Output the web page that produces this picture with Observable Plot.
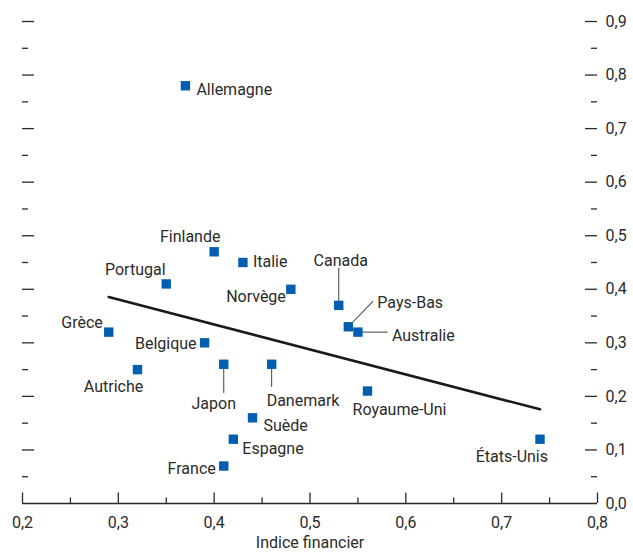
<!DOCTYPE html>
<html><head><meta charset="utf-8">
<script src="https://cdn.jsdelivr.net/npm/d3@7"></script>
<script src="https://cdn.jsdelivr.net/npm/@observablehq/plot@0.6"></script>
<style>
html,body{margin:0;padding:0;background:#fff;}
#chart svg{display:block;}
</style></head><body><div id="chart"></div>
<script>
// ---- data ----
const countries = ["Allemagne","Finlande","Italie","Portugal","Norvège","Grèce","Belgique","Autriche","Japon","Danemark","Canada","Pays-Bas","Australie","Royaume-Uni","États-Unis","Suède","Espagne","France"];
const indiceFinancier = [0.37,0.40,0.43,0.35,0.48,0.29,0.39,0.32,0.41,0.46,0.53,0.54,0.55,0.56,0.74,0.44,0.42,0.41];
const valeurY = [0.78,0.47,0.45,0.41,0.40,0.32,0.30,0.25,0.26,0.26,0.37,0.33,0.32,0.21,0.12,0.16,0.12,0.07];
const xTicks = [0.2,0.3,0.4,0.5,0.6,0.7,0.8];
const xMinorTicks = [0.25,0.35,0.45,0.55,0.65,0.75];
const yLabelTicks = [0,0.1,0.2,0.3,0.4,0.5,0.6,0.7,0.8,0.9];
const yMajorTicks = [0.1,0.2,0.3,0.4,0.5,0.6,0.7,0.8,0.9];
const yMinorTicks = [0.05,0.15,0.25,0.35,0.45,0.55,0.65,0.75,0.85];
const xLabel = "Indice financier";

// ---- label layout (anchor, dx, dy in px) ----
const labelLayout = {
  "Allemagne": ["start", 11, 4],
  "Finlande": ["middle", -24, -15],
  "Italie": ["start", 10, -1],
  "Portugal": ["middle", -31, -14],
  "Norvège": ["end", -5, 8],
  "Grèce": ["end", -6, -9],
  "Belgique": ["end", -8, 1],
  "Autriche": ["middle", -24, 17],
  "Japon": ["middle", -10, 40],
  "Danemark": ["start", -5, 37],
  "Canada": ["middle", 2, -44],
  "Pays-Bas": ["start", 29, -24],
  "Australie": ["start", 34, 4],
  "Royaume-Uni": ["middle", 32, 19],
  "États-Unis": ["end", 8, 18],
  "Suède": ["start", 11, 8],
  "Espagne": ["start", 9, 10],
  "France": ["end", -8, 3]
};
// leader lines: length px, rotation deg
const leaders = {"Japon": [28, 180], "Danemark": [22, 180], "Canada": [37, 0], "Pays-Bas": [35, 44], "Australie": [29, 90]};

const data = countries.map((c, i) => ({pays: c, x: indiceFinancier[i], y: valeurY[i]}));

const W = 633, H = 552, mL = 22, mR = 36, mT = 21, mB = 49;
const plotW = W - mL - mR, plotH = H - mT - mB;
const ink = "#2b2b2b";
const fmt = d => d3.format(".1f")(d).replace(".", ",");
const font = "Roboto, 'Liberation Sans', sans-serif";

const marks = [];
// ticks
marks.push(Plot.tickX(xTicks, {x: d => d, insetTop: plotH - 10.5, stroke: ink, strokeWidth: 1.3}));
marks.push(Plot.tickX(xMinorTicks, {x: d => d, insetTop: plotH - 5.5, stroke: ink, strokeWidth: 1.3}));
marks.push(Plot.tickY(yMajorTicks, {y: d => d, insetRight: plotW - 12, stroke: ink, strokeWidth: 1.3}));
marks.push(Plot.tickY(yMinorTicks, {y: d => d, insetRight: plotW - 6, stroke: ink, strokeWidth: 1.3}));
marks.push(Plot.tickY(yMajorTicks, {y: d => d, insetLeft: plotW - 12, stroke: ink, strokeWidth: 1.3}));
marks.push(Plot.tickY(yMinorTicks, {y: d => d, insetLeft: plotW - 6, stroke: ink, strokeWidth: 1.3}));
marks.push(Plot.ruleY([0], {stroke: ink, strokeWidth: 1.6}));
// axes
marks.push(Plot.axisX({ticks: xTicks, tickSize: 0, tickPadding: 13, tickFormat: fmt, label: null}));
marks.push(Plot.axisY({anchor: "right", ticks: yLabelTicks, tickSize: 0, tickPadding: 8, tickFormat: fmt, label: null}));
marks.push(Plot.text([xLabel], {frameAnchor: "bottom", dy: 44, text: d => d, lineAnchor: "bottom", fill: ink}));
// leaders
for (const [name, [len, rot]] of Object.entries(leaders)) {
  marks.push(Plot.vector(data.filter(d => d.pays === name), {x: "x", y: "y", length: len, rotate: rot, anchor: "start", r: 0, stroke: "#444", strokeWidth: 1}));
}
// regression line
marks.push(Plot.linearRegressionY(data, {x: "x", y: "y", ci: 0, stroke: "#1a1a1a", strokeWidth: 2.6}));
// points
marks.push(Plot.dot(data, {x: "x", y: "y", symbol: "square", r: 5.3, fill: "#005eb0"}));
// labels
for (const d of data) {
  const [anchor, dx, dy] = labelLayout[d.pays];
  marks.push(Plot.text([d], {x: "x", y: "y", text: "pays", textAnchor: anchor, dx, dy, lineAnchor: "middle", fill: ink}));
}

const chart = Plot.plot({
  width: W, height: H,
  marginLeft: mL, marginRight: mR, marginTop: mT, marginBottom: mB,
  x: {domain: [0.2, 0.8]},
  y: {domain: [0, 0.9]},
  style: {fontFamily: font, fontSize: "16px", color: ink, background: "#fff"},
  marks
});
document.getElementById("chart").append(chart);
</script>
</body></html>
